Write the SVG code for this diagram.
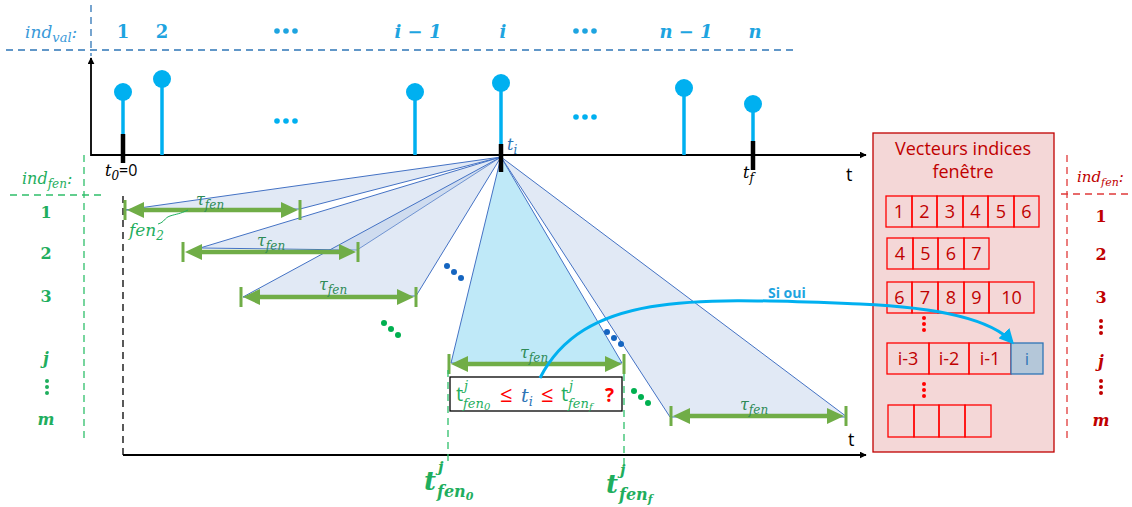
<svg xmlns="http://www.w3.org/2000/svg" xmlns:xlink="http://www.w3.org/1999/xlink" width="1132" height="507" viewBox="0 0 1132 507">
<style>
.m{font-family:"DejaVu Serif","Liberation Serif",serif;font-style:italic}
.mb{font-family:"DejaVu Serif","Liberation Serif",serif;font-weight:bold}
.sans{font-family:"Open Sans","Liberation Sans",sans-serif}
.top{fill:#1ea4e0;font-size:18px;text-anchor:middle}
.gl{fill:#1fae5e;font-size:16px;text-anchor:middle}
.rl{fill:#c00000;font-size:16px;text-anchor:middle}
.tau{fill:#2e8b57;font-size:16px}
.stem{stroke:#00b0f0;stroke-width:3.5}
.bulb{fill:#00b0f0}
.tick{stroke:#000;stroke-width:4.5}
.fan{fill:#b4c7e7;fill-opacity:0.4;stroke:#4472c4;stroke-width:1}
.cell{fill:none;stroke:#ff0000;stroke-width:1.3}
.ct{fill:#c00000;font-size:18px;text-anchor:middle}
.gd{stroke:#2fbf6a;stroke-width:1.3;stroke-dasharray:7 5;fill:none}
.rd{stroke:#e03a3a;stroke-width:1.3;stroke-dasharray:7 5;fill:none}
.bd{stroke:#2e75b6;stroke-width:1.3;stroke-dasharray:7 5;fill:none}
</style>
<defs>
<marker id="ah" viewBox="0 0 10 10" refX="9" refY="5" markerWidth="7" markerHeight="7" orient="auto" markerUnits="userSpaceOnUse">
<path d="M0,0 L10,5 L0,10 z" fill="#000"/>
</marker>
<marker id="ahb" viewBox="0 0 10 10" refX="8" refY="5" markerWidth="5" markerHeight="5" orient="auto">
<path d="M0,0 L10,5 L0,10 z" fill="#00b0f0"/>
</marker>
<g id="win">
<line x1="12" y1="0" x2="163" y2="0" stroke="#70ad47" stroke-width="4.5"/>
<polygon points="2,0 19,-8 19,8" fill="#70ad47"/>
<polygon points="173,0 156,-8 156,8" fill="#70ad47"/>
<line x1="0" y1="-10" x2="0" y2="10" stroke="#70ad47" stroke-width="3"/>
<line x1="175" y1="-10" x2="175" y2="10" stroke="#70ad47" stroke-width="3"/>
</g>
<g id="dots3"><circle cx="0" cy="0" r="2.8"/><circle cx="9" cy="0" r="2.8"/><circle cx="18" cy="0" r="2.8"/></g>
<g id="vdots"><circle cx="0" cy="0" r="2"/><circle cx="0" cy="6" r="2"/><circle cx="0" cy="12" r="2"/></g>
<g id="ddots"><circle cx="0" cy="0" r="3"/><circle cx="7" cy="6" r="3"/><circle cx="14" cy="12" r="3"/></g>
</defs>
<rect width="1132" height="507" fill="#fff"/>

<g id="index-val-header">
<line x1="91" y1="5" x2="91" y2="56" class="bd"/>
<line x1="6" y1="50" x2="793" y2="50" class="bd"/>
<text x="25" y="38" class="m" fill="#3a9ad9" font-size="17">ind<tspan font-size="13" dy="4">val</tspan><tspan dy="-4">:</tspan></text>
<text x="123" y="38" class="mb top">1</text>
<text x="162" y="38" class="mb top">2</text>
<use xlink:href="#dots3" x="277" y="31" fill="#1ea4e0"/>
<text x="418" y="38" class="mb top" font-style="italic">i − 1</text>
<text x="503" y="38" class="mb top" font-style="italic">i</text>
<use xlink:href="#dots3" x="576" y="31" fill="#1ea4e0"/>
<text x="686" y="38" class="mb top" font-style="italic">n − 1</text>
<text x="755" y="38" class="mb top" font-style="italic">n</text>
</g>

<g id="signal-axis">
<line x1="91" y1="156" x2="91" y2="58" stroke="#000" stroke-width="1.8" marker-end="url(#ah)"/>
<line x1="91" y1="155" x2="866" y2="155" stroke="#000" stroke-width="2" marker-end="url(#ah)"/>
<text x="846" y="181" class="sans" font-size="18" fill="#000">t</text>
</g>

<g id="samples">
<line x1="123" y1="92" x2="123" y2="134" class="stem"/><circle cx="123" cy="92" r="9" class="bulb"/>
<line x1="162" y1="79" x2="162" y2="155" class="stem"/><circle cx="162" cy="79" r="9" class="bulb"/>
<use xlink:href="#dots3" x="277" y="121" fill="#00b0f0"/>
<line x1="415" y1="92" x2="415" y2="155" class="stem"/><circle cx="415" cy="92" r="9" class="bulb"/>
<line x1="501" y1="83" x2="501" y2="144" class="stem"/><circle cx="501" cy="83" r="9" class="bulb"/>
<use xlink:href="#dots3" x="576" y="117" fill="#00b0f0"/>
<line x1="684" y1="88" x2="684" y2="155" class="stem"/><circle cx="684" cy="88" r="9" class="bulb"/>
<line x1="753" y1="104" x2="753" y2="141" class="stem"/><circle cx="753" cy="104" r="9" class="bulb"/>
<line x1="123" y1="134" x2="123" y2="163" class="tick"/>
<line x1="753" y1="141" x2="753" y2="170" class="tick"/>
<text x="105" y="176" class="m" font-size="16" fill="#000">t<tspan font-size="12" dy="4">0</tspan><tspan dy="-4" font-style="normal" class="sans" font-size="16">=0</tspan></text>
<text x="743" y="178" class="m" font-size="16" fill="#000">t<tspan font-size="12" dy="4">f</tspan></text>
</g>

<g id="fans">
<polygon points="501,157 125,210 300,209" class="fan"/>
<polygon points="501,157 200,248 357,250" class="fan"/>
<polygon points="501,157 243,297 416,296" class="fan"/>
<polygon points="501,157 670,417 847,417" class="fan"/>
<polygon points="501,157 451,363 622,363" fill="#bfe9f8" stroke="#4472c4" stroke-width="1"/>
</g>

<g id="ti-tick">
<line x1="501" y1="144" x2="501" y2="172" class="tick"/>
<text x="507" y="150" class="m" font-size="16" fill="#2e75b6">t<tspan font-size="12" dy="4">i</tspan></text>
</g>

<g id="index-fen-left">
<text x="22" y="184" class="m" fill="#1fae5e" font-size="16">ind<tspan font-size="12" dy="4">fen</tspan><tspan dy="-4">:</tspan></text>
<line x1="10" y1="195" x2="105" y2="195" class="gd"/>
<line x1="84" y1="155" x2="84" y2="438" class="gd"/>
<text x="46" y="218" class="mb gl">1</text>
<text x="46" y="259" class="mb gl">2</text>
<text x="46" y="302" class="mb gl">3</text>
<text x="46" y="364" class="mb gl" font-style="italic">j</text>
<use xlink:href="#vdots" x="47" y="381" fill="#1fae5e"/>
<text x="46" y="425" class="mb gl" font-style="italic">m</text>
</g>

<g id="window-axis">
<line x1="123" y1="196" x2="123" y2="455" stroke="#000" stroke-width="1.3" stroke-dasharray="7 5"/>
<line x1="123" y1="455" x2="866" y2="455" stroke="#000" stroke-width="2" marker-end="url(#ah)"/>
<text x="848" y="446" class="sans" font-size="18" fill="#000">t</text>
</g>

<g id="windows">
<use xlink:href="#win" x="125" y="210"/>
<use xlink:href="#win" x="183" y="252"/>
<use xlink:href="#win" x="241" y="297"/>
<use xlink:href="#win" x="449" y="364"/>
<use xlink:href="#win" x="671" y="416"/>
<text x="196" y="205" class="m tau">τ<tspan font-size="12" dy="4">fen</tspan></text>
<text x="257" y="246" class="m tau">τ<tspan font-size="12" dy="4">fen</tspan></text>
<text x="319" y="290" class="m tau">τ<tspan font-size="12" dy="4">fen</tspan></text>
<text x="520" y="358" class="m tau">τ<tspan font-size="12" dy="4">fen</tspan></text>
<text x="740" y="410" class="m tau">τ<tspan font-size="12" dy="4">fen</tspan></text>
<path d="M188,210 C180,214 176,214 170,216 C164,218 165,222 158,224" fill="none" stroke="#1fae5e" stroke-width="1"/>
<text x="129" y="236" class="m" fill="#1fae5e" font-size="17">fen<tspan font-size="12" dy="4">2</tspan></text>
</g>

<g id="ellipses">
<use xlink:href="#ddots" x="447" y="266" fill="#1565c0"/>
<use xlink:href="#ddots" x="384" y="323" fill="#00b050"/>
<use xlink:href="#ddots" x="607" y="332" fill="#1565c0"/>
<use xlink:href="#ddots" x="634" y="391" fill="#00b050"/>
</g>

<g id="bounds">
<line x1="448" y1="370" x2="448" y2="463" class="gd"/>
<line x1="624" y1="374" x2="624" y2="466" class="gd"/>
<text x="424" y="490" class="m" font-weight="bold" fill="#1fae5e" font-size="26">t</text>
<text x="438" y="472" class="m" font-weight="bold" fill="#1fae5e" font-size="15">j</text>
<text x="437" y="497" class="m" font-weight="bold" fill="#1fae5e" font-size="16">fen<tspan font-size="11" dy="3">0</tspan></text>
<text x="606" y="493" class="m" font-weight="bold" fill="#1fae5e" font-size="26">t</text>
<text x="620" y="475" class="m" font-weight="bold" fill="#1fae5e" font-size="15">j</text>
<text x="619" y="500" class="m" font-weight="bold" fill="#1fae5e" font-size="16">fen<tspan font-size="11" dy="3">f</tspan></text>
</g>

<g id="condition">
<rect x="450" y="377" width="172" height="34" fill="#fff" stroke="#000" stroke-width="1.3"/>
<text x="456" y="401" class="sans" fill="#1fae5e" font-size="20">t</text>
<text x="464" y="390" class="m" fill="#1fae5e" font-size="13">j</text>
<text x="463" y="408" class="m" fill="#1fae5e" font-size="13">fen<tspan font-size="10" dy="2">0</tspan></text>
<text x="500" y="402" class="sans" fill="#ff0000" font-size="22">≤</text>
<text x="521" y="402" class="m" fill="#2e75b6" font-size="19">t<tspan font-size="13" dy="4">i</tspan></text>
<text x="541" y="402" class="sans" fill="#ff0000" font-size="22">≤</text>
<text x="561" y="401" class="sans" fill="#1fae5e" font-size="20">t</text>
<text x="569" y="390" class="m" fill="#1fae5e" font-size="13">j</text>
<text x="568" y="408" class="m" fill="#1fae5e" font-size="13">fen<tspan font-size="10" dy="2">f</tspan></text>
<text x="605" y="402" class="sans" fill="#ff0000" font-size="19" font-weight="bold">?</text>
</g>

<g id="panel">
<rect x="873" y="133" width="181" height="319" fill="#f4d7d7" stroke="#c00000" stroke-width="1.3"/>
<text x="963" y="155" class="sans ct" font-size="17">Vecteurs indices</text>
<text x="963" y="178" class="sans ct" font-size="17">fenêtre</text>
<g id="row1">
<rect x="886" y="196" width="26" height="31" class="cell"/><rect x="912" y="196" width="25" height="31" class="cell"/><rect x="937" y="196" width="26" height="31" class="cell"/><rect x="963" y="196" width="25" height="31" class="cell"/><rect x="988" y="196" width="26" height="31" class="cell"/><rect x="1014" y="196" width="25" height="31" class="cell"/>
<text y="218" class="sans ct"><tspan x="899">1</tspan><tspan x="924.5">2</tspan><tspan x="950">3</tspan><tspan x="975.5">4</tspan><tspan x="1001">5</tspan><tspan x="1026.5">6</tspan></text>
</g>
<g id="row2">
<rect x="887" y="238" width="26" height="31" class="cell"/><rect x="913" y="238" width="25" height="31" class="cell"/><rect x="938" y="238" width="26" height="31" class="cell"/><rect x="964" y="238" width="25" height="31" class="cell"/>
<text y="260" class="sans ct"><tspan x="900">4</tspan><tspan x="925.5">5</tspan><tspan x="951">6</tspan><tspan x="976.5">7</tspan></text>
</g>
<g id="row3">
<rect x="887" y="282" width="25" height="31" class="cell"/><rect x="912" y="282" width="26" height="31" class="cell"/><rect x="938" y="282" width="26" height="31" class="cell"/><rect x="964" y="282" width="25" height="31" class="cell"/><rect x="989" y="282" width="45" height="31" class="cell"/>
<text y="304" class="sans ct"><tspan x="899.5">6</tspan><tspan x="925">7</tspan><tspan x="951">8</tspan><tspan x="976.5">9</tspan><tspan x="1011.5">10</tspan></text>
</g>
<use xlink:href="#vdots" x="924" y="318" fill="#ff0000"/>
<g id="rowj">
<rect x="887" y="343" width="42" height="31" class="cell"/><rect x="929" y="343" width="40" height="31" class="cell"/><rect x="969" y="343" width="42" height="31" class="cell"/>
<rect x="1011" y="343" width="32" height="31" fill="#b4c7d9" stroke="#2e75b6" stroke-width="1.3"/>
<text y="365" class="sans ct" font-size="16"><tspan x="908">i-3</tspan><tspan x="949">i-2</tspan><tspan x="990">i-1</tspan></text>
<text x="1027" y="365" class="sans" font-size="17" fill="#2e75b6" text-anchor="middle">i</text>
</g>
<use xlink:href="#vdots" x="924" y="384" fill="#ff0000"/>
<g id="rowm">
<rect x="888" y="405" width="26" height="32" class="cell"/><rect x="914" y="405" width="25" height="32" class="cell"/><rect x="939" y="405" width="26" height="32" class="cell"/><rect x="965" y="405" width="26" height="32" class="cell"/>
</g>
</g>

<g id="index-fen-right">
<line x1="1067" y1="155" x2="1067" y2="438" class="rd"/>
<line x1="1061" y1="194" x2="1132" y2="194" class="rd"/>
<text x="1077" y="182" class="m" fill="#c00000" font-size="15">ind<tspan font-size="11" dy="4">fen</tspan><tspan dy="-4">:</tspan></text>
<text x="1101" y="222" class="mb rl">1</text>
<text x="1101" y="260" class="mb rl">2</text>
<text x="1101" y="303" class="mb rl">3</text>
<use xlink:href="#vdots" x="1101" y="321" fill="#c00000"/>
<text x="1101" y="367" class="mb rl" font-style="italic">j</text>
<use xlink:href="#vdots" x="1101" y="381" fill="#c00000"/>
<text x="1101" y="426" class="mb rl" font-style="italic">m</text>
</g>

<g id="connectors">
<path d="M540,378 C585,290 700,298 860,304 C930,307 990,318 1012,342" fill="none" stroke="#00b0f0" stroke-width="3" marker-end="url(#ahb)"/>
<text x="768" y="298" class="sans" font-size="14" font-weight="bold" fill="#1ea4e0">Si oui</text>
</g>
</svg>
